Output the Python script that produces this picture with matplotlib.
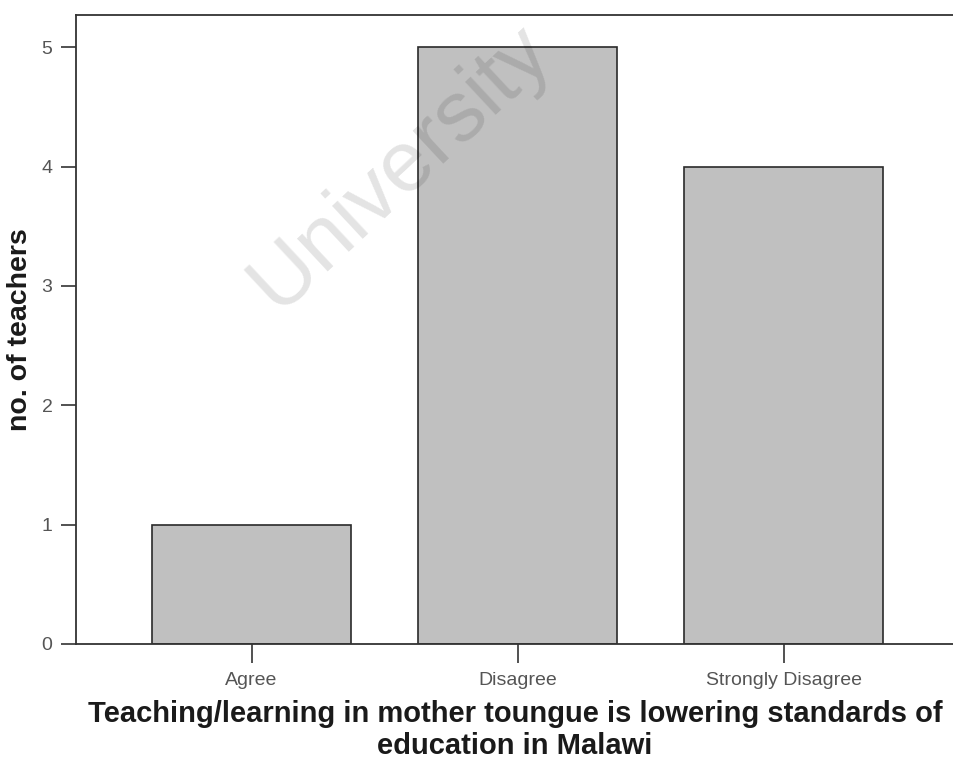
import matplotlib
matplotlib.use("Agg")
import matplotlib.pyplot as plt

categories = ["Agree", "Disagree", "Strongly Disagree"]
counts = [1, 5, 4]
y_ticks = [0, 1, 2, 3, 4, 5]

plt.rcParams['font.family'] = ['Liberation Sans', 'DejaVu Sans']

fig = plt.figure(figsize=(9.54, 7.6), dpi=100)
ax = fig.add_axes([76 / 954, 116 / 760, 878 / 954, 629 / 760])

x = list(range(len(categories)))
ax.bar(x, counts, width=0.75, color="#c0c0c0", edgecolor="#2a2a2a", linewidth=1.2, zorder=2)

ax.set_xlim(-0.66, 2.64)
ax.set_ylim(0, 5.27)
ax.set_yticks(y_ticks)
ax.set_xticks(x)
ax.set_xticklabels(categories)

ax.spines['right'].set_visible(False)
for s in ['left', 'top', 'bottom']:
    ax.spines[s].set_linewidth(1.3)
    ax.spines[s].set_color("#333333")

ax.tick_params(axis='x', length=14, width=1.2, colors="#333333", labelsize=14,
               labelcolor="#555555", pad=6)
ax.tick_params(axis='y', length=11, width=1.2, colors="#333333", labelsize=14,
               labelcolor="#555555", pad=6)

ax.set_xlabel("Teaching/learning in mother toungue is lowering standards of\neducation in Malawi",
              fontsize=21, fontweight='bold', color="#1a1a1a", labelpad=8, linespacing=1.2)
ax.set_ylabel("no. of teachers", fontsize=20.5, fontweight='bold', color="#1a1a1a")
ax.yaxis.label.set_va('center')
ax.yaxis.set_label_coords((20 - 76) / 878, 0.5)

# scan watermark
fig.text(400 / 954, 1 - 168 / 760, "University", fontsize=62, rotation=43,
         color="black", alpha=0.11, ha='center', va='center', zorder=10)

fig.savefig("out.png", dpi=100)
